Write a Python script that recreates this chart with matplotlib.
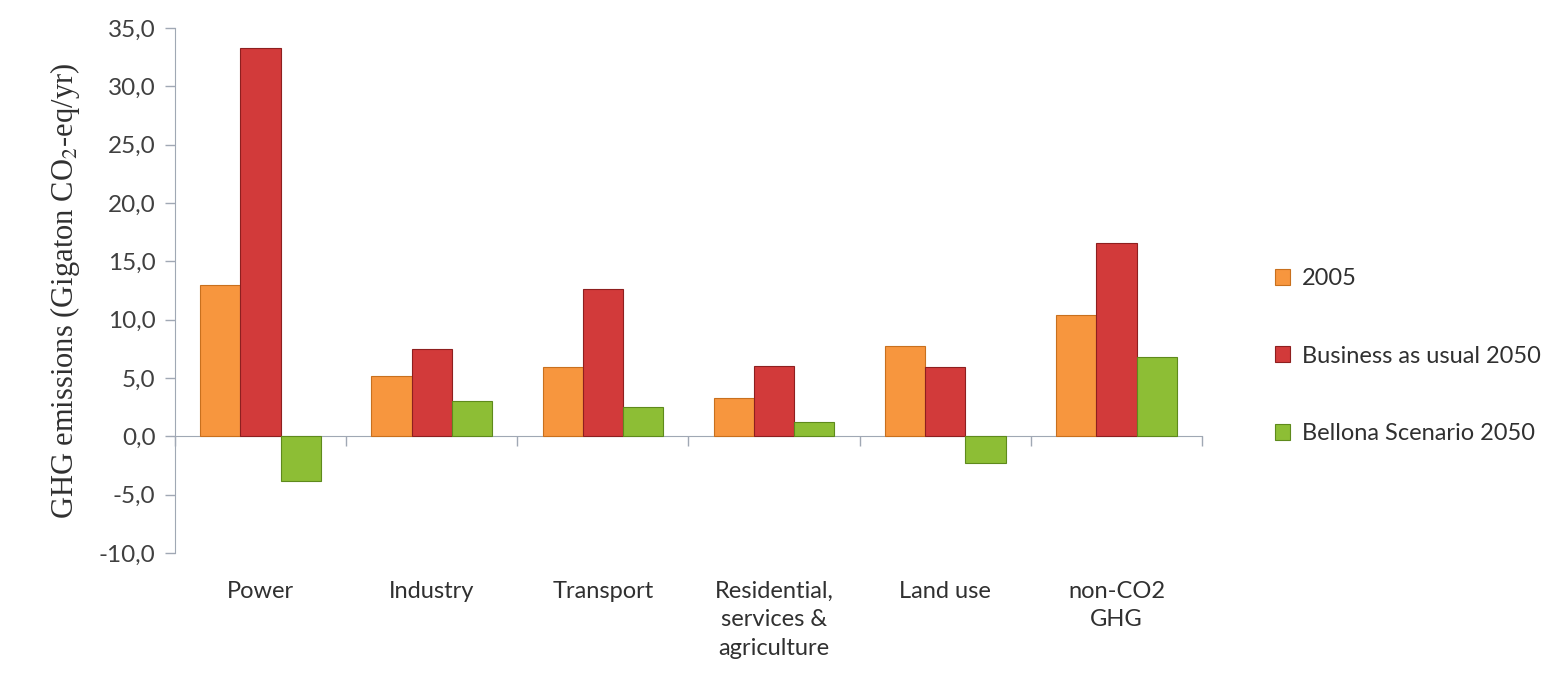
import numpy as np
import matplotlib
matplotlib.use("Agg")
import matplotlib.pyplot as plt
from matplotlib.ticker import FixedLocator, FuncFormatter

# data
categories = ["Power", "Industry", "Transport", "Residential,\nservices &\nagriculture",
              "Land use", "non-CO2\nGHG"]
series_names = ["2005", "Business as usual 2050", "Bellona Scenario 2050"]
v2005 = [13.0, 5.2, 5.9, 3.3, 7.7, 10.4]
bau2050 = [33.3, 7.5, 12.6, 6.0, 5.9, 16.6]
bellona2050 = [-3.8, 3.0, 2.5, 1.2, -2.3, 6.8]
yticks = [-10, -5, 0, 5, 10, 15, 20, 25, 30, 35]

colors = ["#F7963E", "#D23A3A", "#8DBE35"]
edges = ["#C8701E", "#8E1F1F", "#5E8A1C"]

plt.rcParams["font.family"] = ["Lato", "DejaVu Sans"]
plt.rcParams["mathtext.fontset"] = "stix"

fig = plt.figure(figsize=(15.58, 6.97), dpi=100)
ax = fig.add_axes([0.1123, 0.2066, 0.6592, 0.7534])

x = np.arange(len(categories))
w = 0.235
for i, (vals, name) in enumerate(zip([v2005, bau2050, bellona2050], series_names)):
    ax.bar(x + (i - 1) * w, vals, width=w, color=colors[i], edgecolor=edges[i],
           linewidth=0.8, label=name, zorder=3)

ax.set_xlim(-0.5, len(categories) - 0.5)
ax.set_ylim(-10, 35)
ax.set_yticks(yticks)
ax.yaxis.set_major_formatter(FuncFormatter(lambda v, p: f"{v:.1f}".replace(".", ",")))
ax.tick_params(axis="y", labelsize=17.5, colors="#A0A8B4", labelcolor="#404040",
               length=7, width=1, pad=7)

# x axis sits on the zero line, with boundary ticks pointing down
for s in ["top", "right"]:
    ax.spines[s].set_visible(False)
ax.spines["bottom"].set_position(("data", 0))
ax.spines["bottom"].set_color("#A0A8B4")
ax.spines["left"].set_color("#A0A8B4")
ax.xaxis.set_major_locator(FixedLocator(np.arange(len(categories) + 1) - 0.5))
ax.xaxis.set_major_formatter(FuncFormatter(lambda v, p: ""))
ax.tick_params(axis="x", which="major", length=7, width=1, colors="#A0A8B4")
ax.set_xticks(x, minor=True)
ax.set_xticklabels(categories, minor=True, fontsize=17, color="#303030",
                   linespacing=1.45, va="top")
ax.tick_params(axis="x", which="minor", length=0, pad=104)

ax.set_ylabel("GHG emissions (Gigaton CO$_2$-eq/yr)", fontsize=22,
              family="Liberation Serif", color="#303030", labelpad=12)

leg = ax.legend(loc="center left", bbox_to_anchor=(1.05, 0.375), frameon=False,
                fontsize=17, handlelength=0.65, handleheight=0.65,
                handletextpad=0.5, labelspacing=2.4)
for t in leg.get_texts():
    t.set_color("#303030")

fig.savefig("out.png", dpi=100)
